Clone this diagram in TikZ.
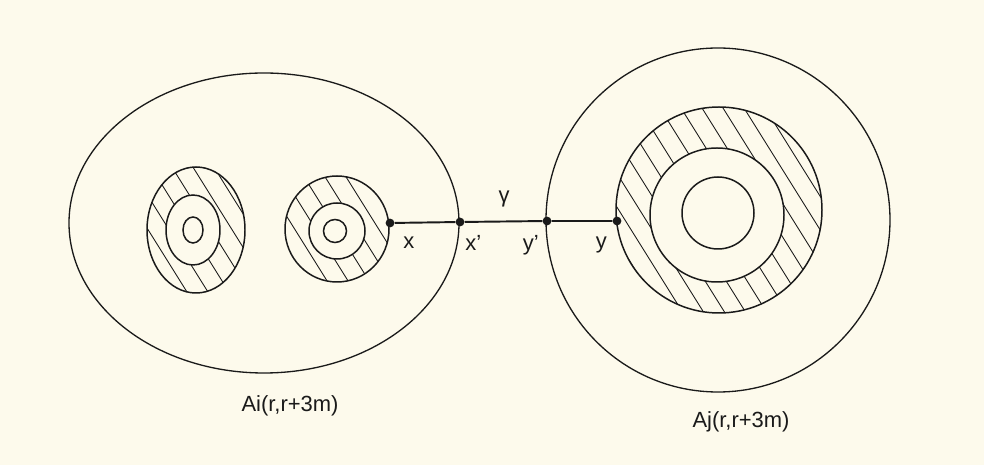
\documentclass[tikz,border=0pt]{standalone}
\usepackage{fontspec}
\setmainfont{Liberation Sans}
\definecolor{PaperBg}{HTML}{FDFAEC}
\definecolor{InkDark}{HTML}{1A1A1A}
\usetikzlibrary{positioning}
\tikzset{
  boundary/.style={draw=InkDark, line width=0.75pt},
  ringline/.style={draw=InkDark, line width=0.85pt},
  holefill/.style={draw=InkDark, line width=0.85pt, fill=PaperBg},
  hatch/.style={draw=InkDark, line width=0.5pt},
  pt/.style={circle, fill=InkDark, inner sep=0pt, minimum size=5pt},
  geodesic/.style={draw=InkDark, line width=1.1pt},
  lbl/.style={font=\fontsize{12.5}{14}\selectfont, text=InkDark, inner sep=0pt}
}

\begin{document}
\begin{tikzpicture}[x=0.02cm, y=-0.02cm]
  \fill[PaperBg] (0,0) rectangle (984,465);
  \useasboundingbox (0,0) rectangle (984,465);

  % hatched annuli
  \begin{scope}
    \clip (196,230) ellipse [x radius=49, y radius=63]
          (337,229) ellipse [x radius=52, y radius=53]
          (719,210) circle [radius=103];
    \foreach \c in {0,21,...,900}
      \draw[hatch] (\c,60) -- (\c+225,420);
  \end{scope}
  \draw[ringline] (196,230) ellipse [x radius=49, y radius=63];
  \draw[ringline] (337,229) ellipse [x radius=52, y radius=53];
  \draw[ringline] (719,210) circle [radius=103];

  \draw[holefill] (193,230) ellipse [x radius=27, y radius=35];
  \draw[holefill] (337,231) circle [radius=28];
  \draw[holefill] (717,215) circle [radius=67];

  \draw[ringline] (193,230) ellipse [x radius=10, y radius=13];
  \draw[ringline] (335,231) circle [radius=11.5];
  \draw[ringline] (718,213) circle [radius=36];

  % the two annuli A_i and A_j
  \draw[boundary] (264,223) ellipse [x radius=195, y radius=150];
  \draw[boundary] (718,220) circle [radius=172];

  % points on the path
  \node[pt] (x) at (390,223) {};
  \node[pt] (xp) at (460,222) {};
  \node[pt] (yp) at (547,221) {};
  \node[pt] (y) at (617,221) {};
  \draw[geodesic] (x) -- (xp) -- (yp) -- (y);

  \node[lbl, below right=6pt and 5.5pt of x] (xlab) {x};
  \node[lbl, below right=5.4pt and 0.9pt of xp] (xplab) {x'};
  \node[lbl, below left=6pt and 2.6pt of yp] (yplab) {y'};
  \node[lbl, below left=7.1pt and 3.7pt of y] (ylab) {y};
  \node[lbl] (gamma) at (504,199) {γ};

  \node[lbl] (ai) at (290,406) {Ai(r,r+3m)};
  \node[lbl] (aj) at (741,422) {Aj(r,r+3m)};
\end{tikzpicture}
\end{document}
